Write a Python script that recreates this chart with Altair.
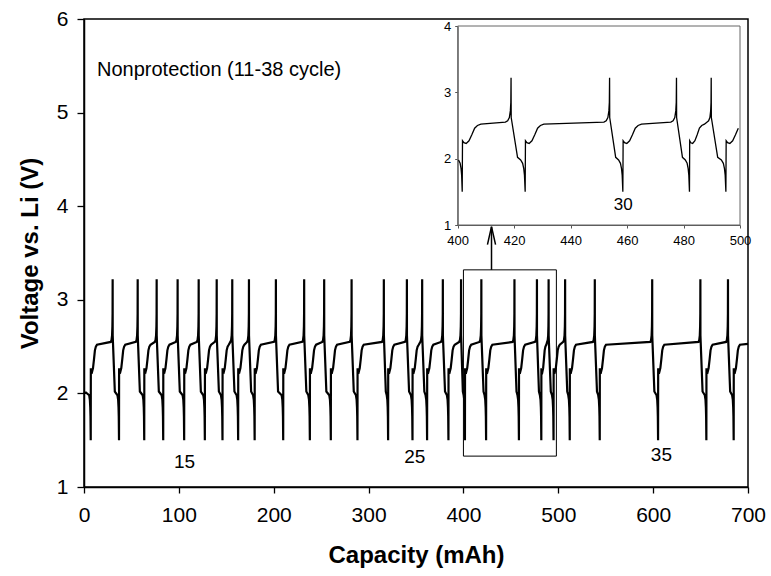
import altair as alt
import pandas as pd

# ---- values ----
# capacity (mAh) where each charge ends in a 3.2 V spike
spike_x = [30.2, 56.6, 76.6, 98.7, 120.9, 139.9, 156.3, 173.9, 202.3, 232.1,
           253.2, 282.1, 316.1, 340.4, 356.5, 378.3, 397.5, 418.9, 453.8, 477.5,
           489.8, 507.2, 538.5, 599.0, 649.8, 678.9]
# capacity (mAh) where each discharge ends in the 1.5 V dip
dip_x = [7.1, 36.9, 63.5, 83.5, 105.6, 127.4, 146.0, 162.5, 179.9, 210.0,
         238.1, 260.2, 288.3, 320.6, 346.3, 361.7, 384.2, 401.6, 423.9, 458.5,
         482.1, 495.0, 512.1, 543.7, 605.2, 656.1, 684.9]

# cycle shape (offset in mAh, voltage in V)
charge_off = [0.0, 0.1, 0.6, 1.4, 2.4, 3.4, 4.4, 5.4, 6.6]
charge_v = [1.50, 2.27, 2.24, 2.23, 2.27, 2.36, 2.46, 2.50, 2.52]
prespike_off = [-2.0, -1.2, -0.6, -0.25, -0.08, 0.0]
prespike_v = [2.55, 2.57, 2.62, 2.72, 2.85, 3.22]
disch_off = [0.05, 2.3]
disch_v = [2.62, 2.02]
predip_off = [-1.6, -0.9, -0.5, -0.25]
predip_v = [1.98, 1.93, 1.85, 1.75]
start_pts = [(0.0, 2.00), (2.0, 2.01)]
end_pt = (700.0, 2.53)

# ---- assemble the curve from the read values ----
pts = list(start_pts)
for i, d in enumerate(dip_x):
    prev = spike_x[i - 1] if i > 0 else d - 5.0
    h = min(1.0, (d - prev) / 5.0)
    for o, v in zip(predip_off, predip_v):
        pts.append((d + o * h, v))
    if i < len(spike_x):
        s = spike_x[i]
        L = s - d
        f = min(1.0, (L - 2.4) / 6.6)
        g = min(1.0, L / 10.0)
        for o, v in zip(charge_off, charge_v):
            pts.append((d + o * f, v))
        for o, v in zip(prespike_off, prespike_v):
            pts.append((s + o * g, v))
        h2 = min(1.0, (dip_x[i + 1] - s) / 5.0)
        for o, v in zip(disch_off, disch_v):
            pts.append((s + o * h2, v))
    else:
        for o, v in zip(charge_off, charge_v):
            pts.append((d + o, v))
        pts.append(end_pt)

curve = pd.DataFrame({"x": [p[0] for p in pts], "v": [p[1] for p in pts],
                      "i": list(range(len(pts)))})

FONT = "Liberation Sans"

# ---- main panel ----
xm_axis = alt.Axis(values=[0, 100, 200, 300, 400, 500, 600, 700], title="Capacity (mAh)",
                   labelFontSize=21, titleFontSize=24, titleFontWeight="bold",
                   tickSize=6, labelPadding=11, titlePadding=18, grid=False,
                   labelFlush=False, labelOverlap=False,
                   domainColor="black", tickColor="black", domainWidth=1.5, tickWidth=1.3,
                   labelColor="black", titleColor="black", labelFont=FONT, titleFont=FONT)
ym_axis = alt.Axis(values=[1, 2, 3, 4, 5, 6], title="Voltage vs. Li (V)",
                   labelFontSize=21, titleFontSize=24, titleFontWeight="bold",
                   tickSize=7, labelPadding=9, titlePadding=14, grid=False,
                   labelFlush=False, labelOverlap=False,
                   domainColor="black", tickColor="black", domainWidth=1.5, tickWidth=1.3,
                   labelColor="black", titleColor="black", labelFont=FONT, titleFont=FONT)


def XM(field="x"):
    return alt.X(f"{field}:Q", scale=alt.Scale(domain=[0, 700], nice=False, zero=False), axis=xm_axis)


def YM(field="v"):
    return alt.Y(f"{field}:Q", scale=alt.Scale(domain=[1, 6], nice=False, zero=False), axis=ym_axis)


main_line = alt.Chart(curve).mark_line(color="black", strokeWidth=2.2).encode(
    x=XM(), y=YM(), order="i:Q")

box_df = pd.DataFrame({"x": [400.0], "x2": [498.0], "v": [1.33], "v2": [3.32]})
box = alt.Chart(box_df).mark_rect(fillOpacity=0, stroke="black", strokeWidth=1).encode(
    x=XM(), x2="x2:Q", y=YM(), y2="v2:Q")

shaft_df = pd.DataFrame({"x": [429.6], "v": [3.32], "v2": [3.78]})
shaft = alt.Chart(shaft_df).mark_rule(color="black", strokeWidth=1.5).encode(
    x=XM(), y=YM(), y2="v2:Q")

head_df = pd.DataFrame({"x": [429.6], "v": [3.685]})
head = alt.Chart(head_df).mark_point(shape="M -0.45 1 L 0 -1 L 0.45 1", size=324,
                                     filled=False, stroke="black", strokeWidth=1.5,
                                     opacity=1).encode(x=XM(), y=YM())

cyc_df = pd.DataFrame({"x": [106.0, 348.8, 608.7], "v": [1.27, 1.32, 1.34],
                       "t": ["15", "25", "35"]})
cyc = alt.Chart(cyc_df).mark_text(fontSize=19, font=FONT, color="black").encode(
    x=XM(), y=YM(), text="t:N")

ttl_df = pd.DataFrame({"x": [13.7], "v": [5.46], "t": ["Nonprotection (11-38 cycle)"]})
ttl = alt.Chart(ttl_df).mark_text(fontSize=20, font=FONT, color="black", align="left",
                                  baseline="middle").encode(x=XM(), y=YM(), text="t:N")

main = alt.layer(main_line, box, shaft, head, cyc, ttl)

# ---- inset panel ----
xi_axis = alt.Axis(values=[400, 420, 440, 460, 480, 500], title=None, orient="bottom",
                   offset=-262, labelFontSize=13, tickSize=3, labelPadding=6, grid=False,
                   labelFlush=False, labelOverlap=False,
                   domainColor="#555", tickColor="#555", domainWidth=1, labelColor="black",
                   labelFont=FONT)
yi_axis = alt.Axis(values=[1, 2, 3, 4], title=None, orient="left", offset=-373.7,
                   labelFontSize=13, tickSize=3, labelPadding=4, grid=False,
                   labelFlush=False, labelOverlap=False,
                   domainColor="#555", tickColor="#555", domainWidth=1, labelColor="black",
                   labelFont=FONT)


def XI(field="x"):
    return alt.X(f"{field}:Q", scale=alt.Scale(domain=[400, 500], range=[373.7, 656.0],
                                               nice=False, zero=False), axis=xi_axis)


def YI(field="v"):
    return alt.Y(f"{field}:Q", scale=alt.Scale(domain=[1, 4], range=[206, 7],
                                               nice=False, zero=False), axis=yi_axis)


inset_line = alt.Chart(curve).transform_filter(
    "datum.x >= 400 && datum.x <= 500").mark_line(color="black", strokeWidth=1.3).encode(
    x=XI(), y=YI(), order="i:Q")

frame_df = pd.DataFrame({"x": [400.0], "x2": [500.0], "v": [1.0], "v2": [4.0]})
frame = alt.Chart(frame_df).mark_rect(fillOpacity=0, stroke="#666", strokeWidth=1).encode(
    x=XI(), x2="x2:Q", y=YI(), y2="v2:Q")

lab30_df = pd.DataFrame({"x": [458.6], "v": [1.30], "t": ["30"]})
lab30 = alt.Chart(lab30_df).mark_text(fontSize=17, font=FONT, color="black").encode(
    x=XI(), y=YI(), text="t:N")

inset = alt.layer(frame, inset_line, lab30)

chart = alt.layer(main, inset).resolve_scale(x="independent", y="independent").properties(
    width=664, height=468,
    padding={"left": 84, "top": 19, "right": 23, "bottom": 89},
    autosize=alt.AutoSizeParams(type="none"),
    background="white",
).configure_view(stroke="black", strokeWidth=1.5)

chart.save("out.html", embed_options={"renderer": "svg", "actions": False})
